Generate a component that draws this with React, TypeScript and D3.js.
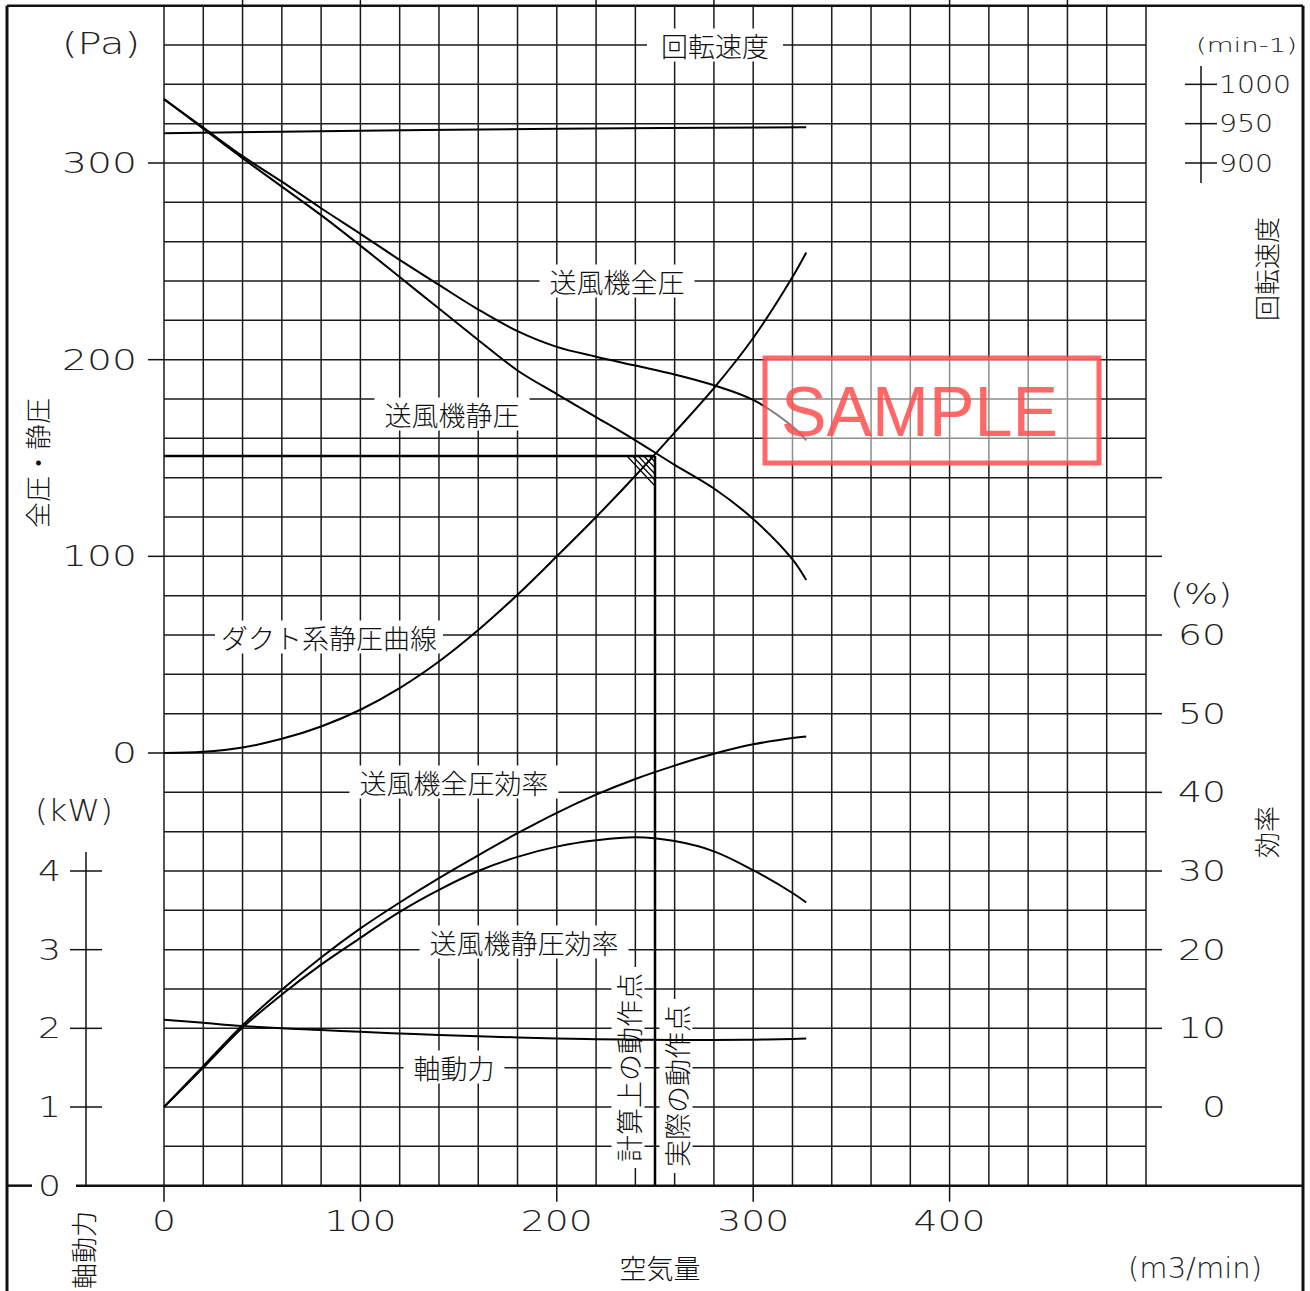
import React from 'react'
import * as d3 from 'd3'

// air volume (m3/min) sample points shared by the fan curves
const flow = [0, 20, 40, 60, 80, 100, 120, 140, 160, 180, 200, 220, 240, 260, 280, 300, 320, 327]
const totalPressure = [332.5, 318, 303.5, 290.5, 277, 264, 250.7, 238, 225.5, 214.5, 206.5, 201.5, 197, 192.5, 187, 179.5, 166, 159]
const staticPressure = [332.5, 317.5, 302.5, 288, 273.5, 258, 242, 226, 210, 194.5, 182.5, 170.8, 159, 146.5, 134.5, 119, 98.5, 88]
const ductPressure = [0, 0.6, 2.8, 7.2, 13.5, 22, 33, 46.5, 62.5, 80.5, 100, 120, 141, 163, 185.5, 211, 242, 254.5]
const totalEfficiency = [0, 5.2, 10.4, 14.9, 19, 22.7, 26, 29.1, 32, 34.8, 37.4, 39.7, 41.7, 43.4, 44.9, 46.1, 46.9, 47.1]
const staticEfficiency = [0, 5.0, 10.1, 14.3, 18.1, 21.5, 24.8, 27.6, 30, 31.8, 33.1, 33.9, 34.3, 33.8, 32.5, 30.1, 27.2, 26]
const shaftPower = [2.11, 2.07, 2.03, 2.0, 1.98, 1.955, 1.935, 1.915, 1.9, 1.885, 1.872, 1.862, 1.855, 1.852, 1.852, 1.856, 1.864, 1.87]

const rpmFlow = [0, 100, 200, 327]
const rpmValues = [937.8, 941, 943.5, 945.3]

const operatingFlow = 250
const operatingPressure = 151

const flowTicks = [0, 100, 200, 300, 400]
const pressureTicks = [0, 100, 200, 300]
const efficiencyTicks = [0, 10, 20, 30, 40, 50, 60, 70, 80]
const efficiencyLabels = [0, 10, 20, 30, 40, 50, 60]
const powerTicks = [0, 1, 2, 3, 4]
const rpmTicks = [900, 950, 1000]

const W = 1310
const H = 1291
const FONT_JP = '"Noto Sans CJK JP", "Noto Sans", sans-serif'
const FONT_NUM = '"DejaVu Sans", sans-serif'
const INK = '#111'

const x = d3.scaleLinear().domain([0, 500]).range([164, 1146])
const y = d3.scaleLinear().domain([0, 300]).range([753, 163])
const eff = d3.scaleLinear().domain([0, 80]).range([y(-180), y(140)])
const kw = d3.scaleLinear().domain([0, 4]).range([y(-220), y(-60)])
const rpm = d3.scaleLinear().domain([900, 1000]).range([y(300), y(340)])

const gridCols = d3.range(0, 501, 20)
const gridRows = d3.range(-220, 381, 20)

const line = (xs: number[], ys: number[], sy: (v: number) => number) =>
  d3
    .line<number>()
    .x((_, i) => x(xs[i]))
    .y(d => sy(d))
    .curve(d3.curveCatmullRom.alpha(0.5))(ys) || ''

const Num = ({ tx, ty, text, size = 29, per = 24, anchor = 'middle' }: any) => (
  <text
    x={tx}
    y={ty}
    fontFamily={FONT_NUM}
    fontWeight={200}
    fontSize={size}
    fill="#222"
    textAnchor={anchor}
    dominantBaseline="central"
    textLength={String(text).length * per}
    lengthAdjust="spacingAndGlyphs"
  >
    {text}
  </text>
)

const Label = ({ cx, cy, text, size = 27, padX = 10 }: any) => {
  const w = text.length * size
  return (
    <g>
      <rect x={cx - w / 2 - padX} y={cy - size / 2 - 3} width={w + padX * 2} height={size + 6} fill="white" />
      <text x={cx} y={cy} textAnchor="middle" dominantBaseline="central" fontSize={size} fontFamily={FONT_JP} fontWeight={300} fill={INK}>
        {text}
      </text>
    </g>
  )
}

const VLabel = ({ cx, bottom, text, size = 27, pad = 6, bg = true }: any) => {
  const w = text.length * size
  return (
    <g transform={`translate(${cx},${bottom}) rotate(-90)`}>
      {bg && <rect x={-pad} y={-size / 2 - 3} width={w + pad * 2} height={size + 6} fill="white" />}
      <text x={0} y={0} dominantBaseline="central" fontSize={size} fontFamily={FONT_JP} fontWeight={300} fill={INK}>
        {text}
      </text>
    </g>
  )
}

export default function App() {
  const ox = x(operatingFlow)
  const oy = y(operatingPressure)
  const axisY = y(-220)
  const hatch = d3.range(0.2, 1, 0.2)

  return (
    <svg width={W} height={H} style={{ position: 'absolute', left: 0, top: 0, background: 'white' }}>
      <rect width={W} height={H} fill="white" />

      {/* grid */}
      <g stroke="#1a1a1a" strokeWidth={1.5}>
        {gridCols.map(c => (
          <line key={'c' + c} x1={x(c)} x2={x(c)} y1={y(380)} y2={axisY} />
        ))}
        {gridRows.map(r => (
          <line key={'r' + r} x1={x(0)} x2={x(500)} y1={y(r)} y2={y(r)} />
        ))}
      </g>

      {/* frame */}
      <g stroke={INK} strokeWidth={2.5}>
        <line x1={7} x2={1303} y1={y(380)} y2={y(380)} />
        <line x1={7} x2={7} y1={y(380)} y2={H} strokeWidth={3} />
        <line x1={1303} x2={1303} y1={y(380)} y2={H} strokeWidth={3} />
        <line x1={7} x2={32} y1={axisY} y2={axisY} />
        <line x1={76} x2={1303} y1={axisY} y2={axisY} />
        {[40, 100, 220, 280, 400, 460].map(v => (
          <line key={v} x1={x(v)} x2={x(v)} y1={0} y2={y(380)} strokeWidth={1.5} />
        ))}
      </g>

      {/* left pressure axis */}
      <text x={140} y={43} textAnchor="end" dominantBaseline="central" fontFamily={FONT_NUM} fontWeight={200} fontSize={30} fill="#222" textLength={78} lengthAdjust="spacingAndGlyphs">
        (Pa)
      </text>
      {pressureTicks.map(t => (
        <g key={t}>
          <line x1={148} x2={x(0)} y1={y(t)} y2={y(t)} stroke={INK} strokeWidth={1.5} />
          <Num tx={137} ty={y(t)} text={t} per={25} anchor="end" />
        </g>
      ))}
      <VLabel cx={36} bottom={528} text="全圧・静圧" size={26} bg={false} />

      {/* shaft power axis */}
      <line x1={86} x2={86} y1={852} y2={axisY} stroke={INK} strokeWidth={1.5} />
      {powerTicks.map(t => (
        <g key={t}>
          {t > 0 && <line x1={70} x2={102} y1={kw(t)} y2={kw(t)} stroke={INK} strokeWidth={1.5} />}
          <Num tx={61} ty={kw(t)} text={t} per={23} anchor="end" />
        </g>
      ))}
      <text x={113} y={810} textAnchor="end" dominantBaseline="central" fontFamily={FONT_NUM} fontWeight={200} fontSize={30} fill="#222" textLength={78} lengthAdjust="spacingAndGlyphs">
        (kW)
      </text>
      <VLabel cx={82} bottom={1289} text="軸動力" size={26} bg={false} />

      {/* x axis */}
      {flowTicks.map(t => (
        <g key={t}>
          <line x1={x(t)} x2={x(t)} y1={axisY} y2={axisY + 16} stroke={INK} strokeWidth={1.5} />
          <Num tx={x(t)} ty={1221} text={t} per={24} />
        </g>
      ))}
      <text x={660} y={1267} textAnchor="middle" dominantBaseline="central" fontSize={27} fontFamily={FONT_JP} fontWeight={300} fill={INK}>
        空気量
      </text>
      <text x={1195} y={1268} textAnchor="middle" dominantBaseline="central" fontFamily={FONT_NUM} fontWeight={200} fontSize={28} fill="#222" textLength={134} lengthAdjust="spacingAndGlyphs">
        (m3/min)
      </text>

      {/* efficiency axis */}
      {efficiencyTicks.map(t => (
        <line key={t} x1={x(500)} x2={1162} y1={eff(t)} y2={eff(t)} stroke={INK} strokeWidth={1.5} />
      ))}
      {efficiencyLabels.map(t => (
        <Num key={t} tx={1226} ty={eff(t)} text={t} per={24} anchor="end" />
      ))}
      <text x={1201} y={594} textAnchor="middle" dominantBaseline="central" fontFamily={FONT_NUM} fontWeight={200} fontSize={28} fill="#222" textLength={62} lengthAdjust="spacingAndGlyphs">
        (%)
      </text>
      <VLabel cx={1265} bottom={858} text="効率" size={26} bg={false} />

      {/* rpm axis */}
      <line x1={1201} x2={1201} y1={66} y2={183} stroke={INK} strokeWidth={1.5} />
      {rpmTicks.map(t => (
        <g key={t}>
          <line x1={1185} x2={1217} y1={rpm(t)} y2={rpm(t)} stroke={INK} strokeWidth={1.5} />
          <Num tx={1219} ty={rpm(t)} text={t} size={25} per={18} anchor="start" />
        </g>
      ))}
      <text x={1297} y={45} textAnchor="end" dominantBaseline="central" fontFamily={FONT_NUM} fontWeight={200} fontSize={20} fill="#222" textLength={101} lengthAdjust="spacingAndGlyphs">
        (min-1)
      </text>
      <VLabel cx={1265} bottom={321} text="回転速度" size={26} bg={false} />

      {/* curve labels */}
      <Label cx={715} cy={45} text="回転速度" padX={14} />
      <Label cx={617} cy={281} text="送風機全圧" />
      <Label cx={452} cy={414} text="送風機静圧" />
      <Label cx={329} cy={637} text="ダクト系静圧曲線" padX={6} />
      <Label cx={454} cy={782} text="送風機全圧効率" />
      <Label cx={524} cy={942} text="送風機静圧効率" />
      <Label cx={454} cy={1067} text="軸動力" />
      <VLabel cx={628} bottom={1162} text="計算上の動作点" />
      <VLabel cx={676} bottom={1167} text="実際の動作点" />

      {/* curves */}
      <g fill="none" stroke="#000" strokeWidth={2}>
        <path d={line(rpmFlow, rpmValues, rpm)} />
        <path d={line(flow, totalPressure, y)} />
        <path d={line(flow, staticPressure, y)} />
        <path d={line(flow, ductPressure, y)} />
        <path d={line(flow, totalEfficiency, eff)} />
        <path d={line(flow, staticEfficiency, eff)} />
        <path d={line(flow, shaftPower, kw)} />
      </g>

      {/* operating point */}
      <g stroke="#000">
        <line x1={x(0)} x2={ox} y1={oy} y2={oy} strokeWidth={2.5} />
        <line x1={ox} x2={ox} y1={oy} y2={axisY} strokeWidth={2.5} />
        <line x1={ox - 28} y1={oy} x2={ox} y2={oy + 30} strokeWidth={1.2} />
        {hatch.map(t => (
          <line key={t} x1={ox - 28 + t * 28} y1={oy} x2={ox} y2={oy + (1 - t) * 30} strokeWidth={1.2} />
        ))}
      </g>

      {/* watermark */}
      <rect x={765} y={358} width={334} height={105} fill="white" fillOpacity={0.5} stroke="#ff4d4d" strokeOpacity={0.85} strokeWidth={5} />
      <text x={781} y={436} fontFamily='"Liberation Sans", Arial, sans-serif' fontSize={70} fill="#ff4d4d" fillOpacity={0.85} textLength={277} lengthAdjust="spacingAndGlyphs">
        SAMPLE
      </text>
    </svg>
  )
}
